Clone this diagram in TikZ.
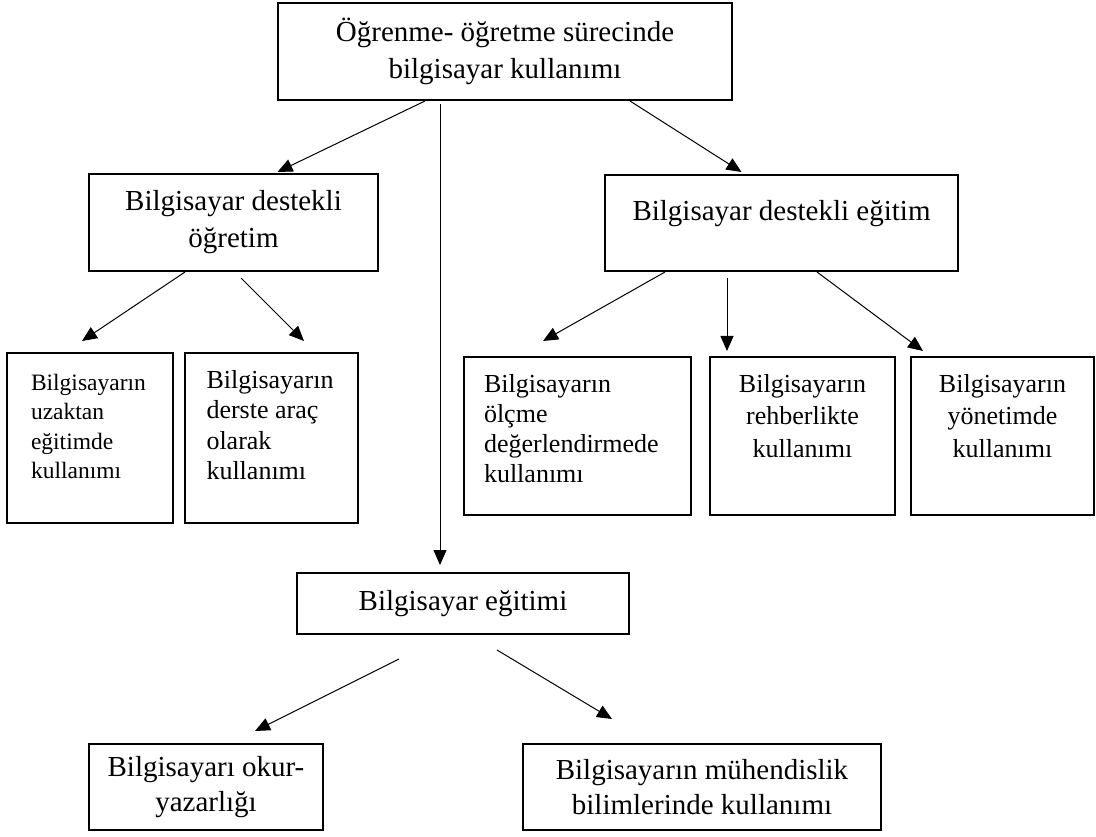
\documentclass[tikz,border=0pt]{standalone}
\usepackage{fontspec}
\setmainfont{Liberation Serif}
\usetikzlibrary{arrows.meta}

\tikzset{
  kutu/.style={draw=black, line width=2pt, inner sep=0pt},
  ok/.style={-{Triangle[length=15pt,width=13pt]}, line width=1pt},
  buyuk/.style={font=\fontsize{29}{37}\selectfont},
  kucuk/.style={font=\fontsize{26}{31}\selectfont}
}
\newcommand{\kutuyazi}[3]{\parbox[c][#1][t]{#2}{#3}}

\begin{document}
\begin{tikzpicture}[x=1pt,y=-1pt]
\tikzstyle{every node}+=[inner sep=0pt]
\useasboundingbox (0,0) rectangle (1096,837);
\node [kutu, buyuk, align=center, minimum width=454pt, minimum height=97pt] (surec) at (505,51.5) {Öğrenme- öğretme sürecinde\\bilgisayar kullanımı};
\node [kutu, buyuk, align=center, minimum width=289pt, minimum height=97pt] (bdo) at (233.5,222.5) {Bilgisayar destekli\\öğretim};
\node [kutu, buyuk, minimum width=353pt, minimum height=96pt, text height=20pt, text depth=24pt] (bde) at (781.5,223) {Bilgisayar destekli eğitim};
\node [kutu, font=\fontsize{23.5}{29.5}\selectfont, minimum width=166pt, minimum height=170pt] (uzak) at (90,438) {\kutuyazi{128pt}{118pt}{\raggedright Bilgisayarın\\uzaktan\\eğitimde\\kullanımı}};
\node [kutu, font=\fontsize{26}{30.3}\selectfont, minimum width=173pt, minimum height=170pt] (arac) at (271.5,438) {\kutuyazi{135pt}{130pt}{\raggedright Bilgisayarın\\derste araç\\olarak\\kullanımı}};
\node [kutu, font=\fontsize{26}{30}\selectfont, minimum width=227pt, minimum height=158pt] (olcme) at (577.5,436) {\kutuyazi{124pt}{187pt}{\raggedright Bilgisayarın\\ölçme\\değerlendirmede\\kullanımı}};
\node [kutu, font=\fontsize{26}{32.5}\selectfont, minimum width=185pt, minimum height=158pt] (rehber) at (802.5,436) {\kutuyazi{124pt}{165pt}{\centering Bilgisayarın\\rehberlikte\\kullanımı}};
\node [kutu, font=\fontsize{26}{32.5}\selectfont, minimum width=183pt, minimum height=158pt] (yonetim) at (1002.5,436) {\kutuyazi{124pt}{165pt}{\centering Bilgisayarın\\yönetimde\\kullanımı}};
\node [kutu, buyuk, minimum width=332pt, minimum height=61pt] (egitim) at (463,603.5) {Bilgisayar eğitimi};
\node [kutu, buyuk, align=center, font=\fontsize{29}{35}\selectfont, minimum width=234pt, minimum height=86pt] (okur) at (206,787) {Bilgisayarı okur-\\yazarlığı};
\node [kutu, buyuk, align=center, font=\fontsize{29}{35}\selectfont, minimum width=358pt, minimum height=86pt] (muhendis) at (702,787) {Bilgisayarın mühendislik\\bilimlerinde kullanımı};

\draw [black, ok] ([xshift=-80pt]surec.south) -- ([xshift=44pt,yshift=1pt]bdo.north);
\draw [black, ok] ([xshift=-65pt,yshift=-3pt]surec.south) -- ([xshift=-23pt,yshift=7pt]egitim.north);
\draw [black, ok] ([xshift=125pt]surec.south) -- ([xshift=-40pt,yshift=2pt]bde.north);
\draw [black, ok] ([xshift=-48.5pt]bdo.south) -- ([xshift=-8pt,yshift=11pt]uzak.north);
\draw [black, ok] ([xshift=7.5pt,yshift=-6pt]bdo.south) -- ([xshift=32.5pt,yshift=11pt]arac.north);
\draw [black, ok] ([xshift=-116.5pt]bde.south) -- ([xshift=-34.5pt,yshift=15pt]olcme.north);
\draw [black, ok] ([xshift=-54.5pt,yshift=-6pt]bde.south) -- ([xshift=-75.5pt,yshift=5pt]rehber.north);
\draw [black, ok] ([xshift=35.5pt]bde.south) -- ([xshift=-79.5pt,yshift=5pt]yonetim.north);
\draw [black, ok] ([xshift=-64pt,yshift=-24pt]egitim.south) -- ([xshift=49pt,yshift=12pt]okur.north);
\draw [black, ok] ([xshift=34pt,yshift=-15pt]egitim.south) -- ([xshift=-90pt,yshift=24pt]muhendis.north);
\end{tikzpicture}
\end{document}
